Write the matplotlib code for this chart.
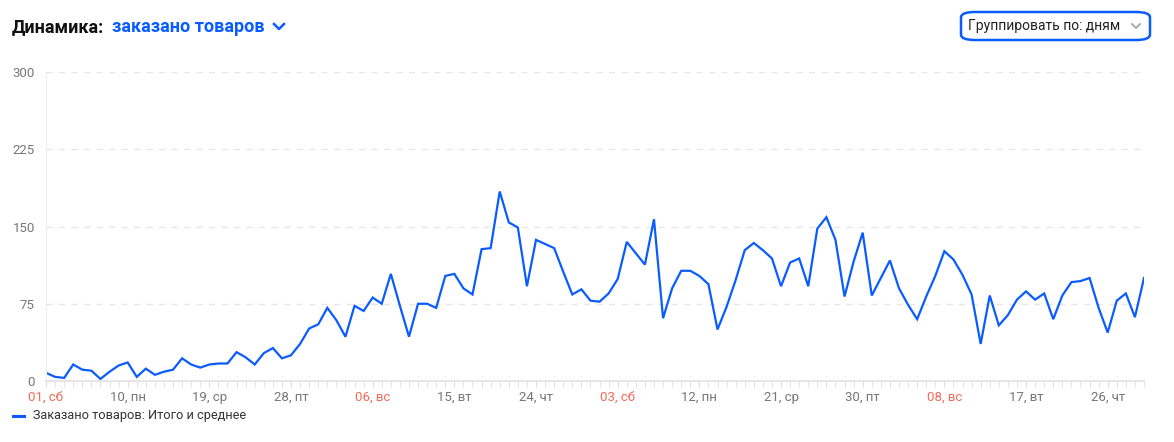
import matplotlib.pyplot as plt
import matplotlib.transforms as mtransforms
from matplotlib.patches import FancyBboxPatch
from matplotlib.lines import Line2D

plt.rcParams['font.family'] = ['Roboto', 'DejaVu Sans']

orders = [8, 4, 3, 16, 11, 10, 2, 9, 15, 18, 4, 12, 6, 9, 11, 22, 16, 13, 16, 17,
          17, 28, 23, 16, 27, 32, 22, 25, 36, 51, 55, 71, 59, 43, 73, 68, 81, 75, 104, 73,
          43, 75, 75, 71, 102, 104, 90, 84, 128, 129, 184, 154, 149, 92, 137, 133, 129, 106, 84, 89,
          78, 77, 85, 99, 135, 124, 113, 157, 61, 90, 107, 107, 102, 94, 50, 72, 98, 127, 134, 127,
          119, 92, 115, 119, 92, 148, 159, 137, 82, 116, 144, 83, 100, 117, 90, 74, 60, 82, 102, 126,
          118, 103, 84, 36, 83, 54, 64, 79, 87, 79, 85, 60, 83, 96, 97, 100, 71, 47, 78, 85,
          62, 100]
tick_labels = ['01, сб', '10, пн', '19, ср', '28, пт', '06, вс', '15, вт', '24, чт',
               '03, сб', '12, пн', '21, ср', '30, пт', '08, вс', '17, вт', '26, чт']
weekend = ['сб', 'вс']

blue = '#0a5cff'
fig = plt.figure(figsize=(11.74, 4.42), dpi=100)
ax = fig.add_axes([46/1174, 1-381/442, (1144-46)/1174, (381-72)/442])
ax.plot(range(len(orders)), orders, color=blue, lw=1.6, solid_joinstyle='miter')
ax.set_xlim(0, len(orders)-1)
ax.set_ylim(0, 300)
ax.set_yticks([0, 75, 150, 225, 300])
ax.grid(axis='y', color='#e6e6e6', ls=(0, (5, 5)), lw=0.9)
ax.set_xticks(range(len(orders)), minor=True)
ax.set_xticks(range(0, 9*len(tick_labels), 9))
ax.set_xticklabels(tick_labels)
shift = mtransforms.ScaledTranslation(-7/100, 0, fig.dpi_scale_trans)
for t in ax.get_xticklabels():
    t.set_color('#f26b5b' if t.get_text()[-2:] in weekend else '#777777')
    t.set_transform(t.get_transform() + shift)
ax.tick_params(axis='x', which='both', length=4, color='#dddddd', labelsize=9.5, pad=3)
ax.tick_params(axis='y', length=0, labelsize=9.5, labelcolor='#777777', pad=8)
for s in ['top', 'right']:
    ax.spines[s].set_visible(False)
ax.spines['bottom'].set_color('#e6e6e6')
ax.spines['bottom'].set_linewidth(1.5)
ax.spines['left'].set_color('#eeeeee')
ax.set_axisbelow(True)

# header
fig.text(12/1174, 1-27/442, 'Динамика:', fontsize=13, fontweight='bold', color='#111111', va='center')
fig.text(112/1174, 1-27/442, 'заказано товаров', fontsize=13, fontweight='bold', color=blue, va='center')
fig.add_artist(Line2D([274/1174, 279/1174, 284/1174], [1-24/442, 1-29/442, 1-24/442],
                      color=blue, lw=1.8))

# group button
fig.add_artist(FancyBboxPatch((961/1174, 1-40/442), 189/1174, 28/442,
                              boxstyle='round,pad=0,rounding_size=0.012',
                              fc='white', ec=blue, lw=1.8, transform=fig.transFigure))
fig.text(968/1174, 1-26/442, 'Группировать по: дням', fontsize=10, color='#222222', va='center')
fig.add_artist(Line2D([1132/1174, 1136/1174, 1140/1174], [1-24/442, 1-28/442, 1-24/442],
                      color='#aaaaaa', lw=1.4))

# legend
fig.add_artist(Line2D([13/1174, 24/1174], [1-416/442, 1-416/442], color=blue, lw=2.2))
fig.text(33/1174, 1-416/442, 'Заказано товаров: Итого и среднее', fontsize=9.2, color='#333333', va='center')

fig.savefig('out.png', dpi=100)
